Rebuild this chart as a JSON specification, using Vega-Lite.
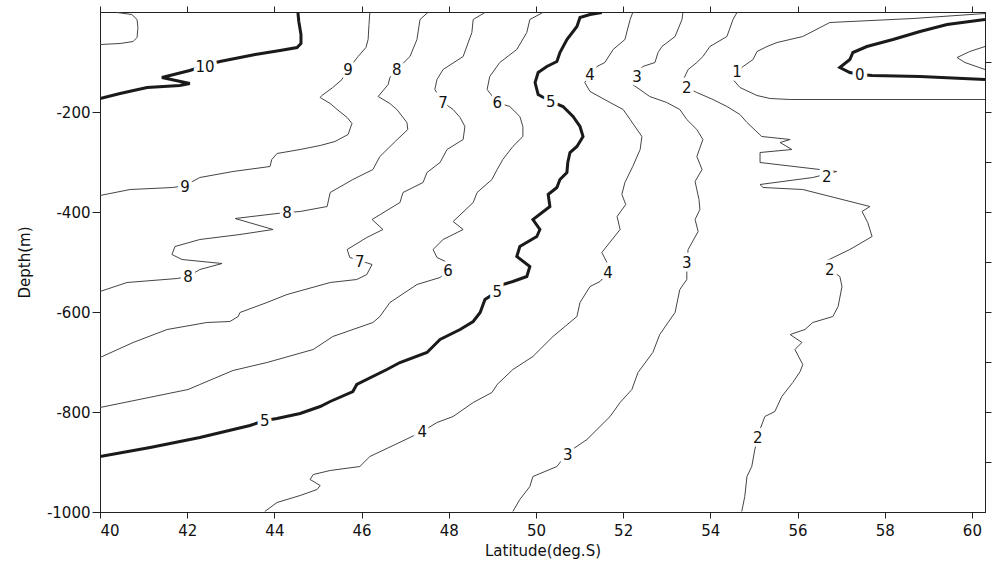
{
"$schema": "https://vega.github.io/schema/vega-lite/v6.json",
"width": 885, "height": 500,
"autosize": {"type": "none"},
"padding": {"left": 100, "top": 12, "right": 7, "bottom": 54},
"background": "white",
"config": {"view": {"stroke": "#222", "strokeWidth": 1}, "font": "DejaVu Sans",
 "axis": {"grid": false, "domainColor": "#222", "tickColor": "#222", "labelColor": "#111", "titleColor": "#111", "labelFontSize": 15, "titleFontSize": 15, "titleFontWeight": "normal", "labelFont": "DejaVu Sans", "titleFont": "DejaVu Sans"}},
"datasets": {
"lines": [
{"s":"c11","v":11,"lat":40.39,"dep":-1},{"s":"c11","v":11,"lat":40.73,"dep":-5},{"s":"c11","v":11,"lat":40.85,"dep":-15},{"s":"c11","v":11,"lat":40.87,"dep":-31},{"s":"c11","v":11,"lat":40.85,"dep":-51},{"s":"c11","v":11,"lat":40.76,"dep":-59},{"s":"c11","v":11,"lat":40.46,"dep":-63},{"s":"c11","v":11,"lat":40.0,"dep":-65},
{"s":"c10","v":10,"lat":44.54,"dep":-1},{"s":"c10","v":10,"lat":44.56,"dep":-19},{"s":"c10","v":10,"lat":44.61,"dep":-45},{"s":"c10","v":10,"lat":44.61,"dep":-63},{"s":"c10","v":10,"lat":44.52,"dep":-71},{"s":"c10","v":10,"lat":44.13,"dep":-77},{"s":"c10","v":10,"lat":43.56,"dep":-85},{"s":"c10","v":10,"lat":42.75,"dep":-99},{"s":"c10","v":10,"lat":42.41,"dep":-107},{"s":"c10","v":10,"lat":42.06,"dep":-117},{"s":"c10","v":10,"lat":41.42,"dep":-131},{"s":"c10","v":10,"lat":42.06,"dep":-143},{"s":"c10","v":10,"lat":41.83,"dep":-147},{"s":"c10","v":10,"lat":41.08,"dep":-151},{"s":"c10","v":10,"lat":40.46,"dep":-163},{"s":"c10","v":10,"lat":40.0,"dep":-173},
{"s":"c9","v":9,"lat":46.19,"dep":-1},{"s":"c9","v":9,"lat":46.17,"dep":-25},{"s":"c9","v":9,"lat":46.15,"dep":-55},{"s":"c9","v":9,"lat":46.10,"dep":-71},{"s":"c9","v":9,"lat":45.92,"dep":-89},{"s":"c9","v":9,"lat":45.69,"dep":-115},{"s":"c9","v":9,"lat":45.55,"dep":-135},{"s":"c9","v":9,"lat":45.34,"dep":-151},{"s":"c9","v":9,"lat":45.09,"dep":-167},{"s":"c9","v":9,"lat":45.05,"dep":-171},{"s":"c9","v":9,"lat":45.28,"dep":-183},{"s":"c9","v":9,"lat":45.44,"dep":-195},{"s":"c9","v":9,"lat":45.67,"dep":-211},{"s":"c9","v":9,"lat":45.78,"dep":-223},{"s":"c9","v":9,"lat":45.69,"dep":-245},{"s":"c9","v":9,"lat":45.39,"dep":-259},{"s":"c9","v":9,"lat":45.05,"dep":-267},{"s":"c9","v":9,"lat":44.59,"dep":-275},{"s":"c9","v":9,"lat":44.06,"dep":-283},{"s":"c9","v":9,"lat":43.94,"dep":-295},{"s":"c9","v":9,"lat":43.90,"dep":-309},{"s":"c9","v":9,"lat":43.05,"dep":-319},{"s":"c9","v":9,"lat":42.29,"dep":-331},{"s":"c9","v":9,"lat":41.95,"dep":-347},{"s":"c9","v":9,"lat":41.67,"dep":-351},{"s":"c9","v":9,"lat":40.69,"dep":-355},{"s":"c9","v":9,"lat":40.0,"dep":-367},
{"s":"c8","v":8,"lat":47.52,"dep":-1},{"s":"c8","v":8,"lat":47.34,"dep":-15},{"s":"c8","v":8,"lat":47.27,"dep":-55},{"s":"c8","v":8,"lat":47.11,"dep":-89},{"s":"c8","v":8,"lat":46.81,"dep":-115},{"s":"c8","v":8,"lat":46.65,"dep":-131},{"s":"c8","v":8,"lat":46.61,"dep":-145},{"s":"c8","v":8,"lat":46.38,"dep":-169},{"s":"c8","v":8,"lat":46.65,"dep":-183},{"s":"c8","v":8,"lat":46.81,"dep":-195},{"s":"c8","v":8,"lat":47.04,"dep":-221},{"s":"c8","v":8,"lat":47.06,"dep":-235},{"s":"c8","v":8,"lat":46.77,"dep":-259},{"s":"c8","v":8,"lat":46.42,"dep":-289},{"s":"c8","v":8,"lat":46.26,"dep":-315},{"s":"c8","v":8,"lat":45.80,"dep":-335},{"s":"c8","v":8,"lat":45.28,"dep":-361},{"s":"c8","v":8,"lat":45.21,"dep":-389},{"s":"c8","v":8,"lat":44.59,"dep":-399},{"s":"c8","v":8,"lat":44.29,"dep":-401},{"s":"c8","v":8,"lat":44.06,"dep":-403},{"s":"c8","v":8,"lat":43.10,"dep":-413},{"s":"c8","v":8,"lat":43.97,"dep":-435},{"s":"c8","v":8,"lat":43.21,"dep":-445},{"s":"c8","v":8,"lat":42.29,"dep":-455},{"s":"c8","v":8,"lat":41.72,"dep":-469},{"s":"c8","v":8,"lat":41.65,"dep":-485},{"s":"c8","v":8,"lat":41.88,"dep":-495},{"s":"c8","v":8,"lat":42.80,"dep":-503},{"s":"c8","v":8,"lat":42.29,"dep":-515},{"s":"c8","v":8,"lat":42.02,"dep":-529},{"s":"c8","v":8,"lat":41.77,"dep":-533},{"s":"c8","v":8,"lat":40.62,"dep":-541},{"s":"c8","v":8,"lat":40.0,"dep":-559},
{"s":"c7","v":7,"lat":48.83,"dep":-1},{"s":"c7","v":7,"lat":48.56,"dep":-15},{"s":"c7","v":7,"lat":48.53,"dep":-41},{"s":"c7","v":7,"lat":48.33,"dep":-89},{"s":"c7","v":7,"lat":47.87,"dep":-115},{"s":"c7","v":7,"lat":47.73,"dep":-135},{"s":"c7","v":7,"lat":47.68,"dep":-155},{"s":"c7","v":7,"lat":47.87,"dep":-181},{"s":"c7","v":7,"lat":48.10,"dep":-195},{"s":"c7","v":7,"lat":48.26,"dep":-211},{"s":"c7","v":7,"lat":48.37,"dep":-229},{"s":"c7","v":7,"lat":48.33,"dep":-255},{"s":"c7","v":7,"lat":47.96,"dep":-275},{"s":"c7","v":7,"lat":47.80,"dep":-301},{"s":"c7","v":7,"lat":47.50,"dep":-321},{"s":"c7","v":7,"lat":47.41,"dep":-341},{"s":"c7","v":7,"lat":46.95,"dep":-361},{"s":"c7","v":7,"lat":46.88,"dep":-381},{"s":"c7","v":7,"lat":46.24,"dep":-415},{"s":"c7","v":7,"lat":46.49,"dep":-435},{"s":"c7","v":7,"lat":46.12,"dep":-451},{"s":"c7","v":7,"lat":45.67,"dep":-475},{"s":"c7","v":7,"lat":45.73,"dep":-491},{"s":"c7","v":7,"lat":45.96,"dep":-497},{"s":"c7","v":7,"lat":46.24,"dep":-505},{"s":"c7","v":7,"lat":46.12,"dep":-525},{"s":"c7","v":7,"lat":45.89,"dep":-535},{"s":"c7","v":7,"lat":45.28,"dep":-541},{"s":"c7","v":7,"lat":44.29,"dep":-565},{"s":"c7","v":7,"lat":43.83,"dep":-581},{"s":"c7","v":7,"lat":43.21,"dep":-601},{"s":"c7","v":7,"lat":43.17,"dep":-609},{"s":"c7","v":7,"lat":42.98,"dep":-619},{"s":"c7","v":7,"lat":42.45,"dep":-621},{"s":"c7","v":7,"lat":41.54,"dep":-635},{"s":"c7","v":7,"lat":40.76,"dep":-661},{"s":"c7","v":7,"lat":40.0,"dep":-691},
{"s":"c6","v":6,"lat":50.16,"dep":-1},{"s":"c6","v":6,"lat":49.86,"dep":-15},{"s":"c6","v":6,"lat":49.79,"dep":-41},{"s":"c6","v":6,"lat":49.56,"dep":-75},{"s":"c6","v":6,"lat":49.17,"dep":-101},{"s":"c6","v":6,"lat":48.94,"dep":-129},{"s":"c6","v":6,"lat":48.88,"dep":-155},{"s":"c6","v":6,"lat":49.11,"dep":-181},{"s":"c6","v":6,"lat":49.40,"dep":-189},{"s":"c6","v":6,"lat":49.63,"dep":-209},{"s":"c6","v":6,"lat":49.70,"dep":-229},{"s":"c6","v":6,"lat":49.70,"dep":-249},{"s":"c6","v":6,"lat":49.47,"dep":-269},{"s":"c6","v":6,"lat":49.24,"dep":-295},{"s":"c6","v":6,"lat":49.11,"dep":-315},{"s":"c6","v":6,"lat":48.99,"dep":-335},{"s":"c6","v":6,"lat":48.65,"dep":-361},{"s":"c6","v":6,"lat":48.56,"dep":-381},{"s":"c6","v":6,"lat":48.10,"dep":-419},{"s":"c6","v":6,"lat":48.33,"dep":-435},{"s":"c6","v":6,"lat":47.87,"dep":-455},{"s":"c6","v":6,"lat":47.64,"dep":-475},{"s":"c6","v":6,"lat":47.73,"dep":-491},{"s":"c6","v":6,"lat":48.07,"dep":-505},{"s":"c6","v":6,"lat":47.98,"dep":-517},{"s":"c6","v":6,"lat":47.80,"dep":-531},{"s":"c6","v":6,"lat":47.27,"dep":-545},{"s":"c6","v":6,"lat":46.65,"dep":-581},{"s":"c6","v":6,"lat":46.42,"dep":-609},{"s":"c6","v":6,"lat":46.26,"dep":-621},{"s":"c6","v":6,"lat":45.34,"dep":-649},{"s":"c6","v":6,"lat":44.89,"dep":-675},{"s":"c6","v":6,"lat":43.83,"dep":-701},{"s":"c6","v":6,"lat":43.05,"dep":-717},{"s":"c6","v":6,"lat":42.29,"dep":-745},{"s":"c6","v":6,"lat":42.02,"dep":-755},{"s":"c6","v":6,"lat":40.0,"dep":-791},
{"s":"c5","v":5,"lat":51.51,"dep":-1},{"s":"c5","v":5,"lat":51.24,"dep":-5},{"s":"c5","v":5,"lat":51.01,"dep":-11},{"s":"c5","v":5,"lat":50.94,"dep":-29},{"s":"c5","v":5,"lat":50.71,"dep":-55},{"s":"c5","v":5,"lat":50.55,"dep":-81},{"s":"c5","v":5,"lat":50.48,"dep":-99},{"s":"c5","v":5,"lat":50.25,"dep":-109},{"s":"c5","v":5,"lat":50.05,"dep":-121},{"s":"c5","v":5,"lat":49.98,"dep":-141},{"s":"c5","v":5,"lat":50.05,"dep":-165},{"s":"c5","v":5,"lat":50.34,"dep":-179},{"s":"c5","v":5,"lat":50.62,"dep":-189},{"s":"c5","v":5,"lat":50.85,"dep":-209},{"s":"c5","v":5,"lat":51.01,"dep":-229},{"s":"c5","v":5,"lat":51.08,"dep":-249},{"s":"c5","v":5,"lat":50.94,"dep":-269},{"s":"c5","v":5,"lat":50.78,"dep":-281},{"s":"c5","v":5,"lat":50.73,"dep":-301},{"s":"c5","v":5,"lat":50.71,"dep":-321},{"s":"c5","v":5,"lat":50.55,"dep":-335},{"s":"c5","v":5,"lat":50.48,"dep":-351},{"s":"c5","v":5,"lat":50.28,"dep":-365},{"s":"c5","v":5,"lat":50.32,"dep":-389},{"s":"c5","v":5,"lat":49.93,"dep":-415},{"s":"c5","v":5,"lat":50.09,"dep":-435},{"s":"c5","v":5,"lat":50.02,"dep":-449},{"s":"c5","v":5,"lat":49.63,"dep":-469},{"s":"c5","v":5,"lat":49.56,"dep":-489},{"s":"c5","v":5,"lat":49.86,"dep":-509},{"s":"c5","v":5,"lat":49.79,"dep":-529},{"s":"c5","v":5,"lat":49.47,"dep":-539},{"s":"c5","v":5,"lat":49.24,"dep":-545},{"s":"c5","v":5,"lat":49.11,"dep":-559},{"s":"c5","v":5,"lat":48.83,"dep":-575},{"s":"c5","v":5,"lat":48.72,"dep":-601},{"s":"c5","v":5,"lat":48.56,"dep":-619},{"s":"c5","v":5,"lat":48.26,"dep":-635},{"s":"c5","v":5,"lat":47.80,"dep":-655},{"s":"c5","v":5,"lat":47.50,"dep":-681},{"s":"c5","v":5,"lat":46.88,"dep":-701},{"s":"c5","v":5,"lat":46.58,"dep":-715},{"s":"c5","v":5,"lat":45.89,"dep":-745},{"s":"c5","v":5,"lat":45.80,"dep":-759},{"s":"c5","v":5,"lat":45.28,"dep":-779},{"s":"c5","v":5,"lat":45.05,"dep":-789},{"s":"c5","v":5,"lat":44.59,"dep":-803},{"s":"c5","v":5,"lat":44.06,"dep":-813},{"s":"c5","v":5,"lat":43.78,"dep":-817},{"s":"c5","v":5,"lat":43.44,"dep":-827},{"s":"c5","v":5,"lat":42.29,"dep":-851},{"s":"c5","v":5,"lat":41.15,"dep":-871},{"s":"c5","v":5,"lat":40.0,"dep":-889},
{"s":"c4","v":4,"lat":52.22,"dep":-1},{"s":"c4","v":4,"lat":52.16,"dep":-15},{"s":"c4","v":4,"lat":52.04,"dep":-55},{"s":"c4","v":4,"lat":51.77,"dep":-75},{"s":"c4","v":4,"lat":51.58,"dep":-101},{"s":"c4","v":4,"lat":51.40,"dep":-109},{"s":"c4","v":4,"lat":51.24,"dep":-125},{"s":"c4","v":4,"lat":51.12,"dep":-141},{"s":"c4","v":4,"lat":51.24,"dep":-159},{"s":"c4","v":4,"lat":51.70,"dep":-181},{"s":"c4","v":4,"lat":52.00,"dep":-195},{"s":"c4","v":4,"lat":52.16,"dep":-215},{"s":"c4","v":4,"lat":52.43,"dep":-249},{"s":"c4","v":4,"lat":52.39,"dep":-275},{"s":"c4","v":4,"lat":52.22,"dep":-309},{"s":"c4","v":4,"lat":52.04,"dep":-341},{"s":"c4","v":4,"lat":51.97,"dep":-365},{"s":"c4","v":4,"lat":52.06,"dep":-385},{"s":"c4","v":4,"lat":51.86,"dep":-409},{"s":"c4","v":4,"lat":51.93,"dep":-435},{"s":"c4","v":4,"lat":51.51,"dep":-481},{"s":"c4","v":4,"lat":51.63,"dep":-501},{"s":"c4","v":4,"lat":51.65,"dep":-521},{"s":"c4","v":4,"lat":51.47,"dep":-539},{"s":"c4","v":4,"lat":51.24,"dep":-549},{"s":"c4","v":4,"lat":51.01,"dep":-581},{"s":"c4","v":4,"lat":50.94,"dep":-609},{"s":"c4","v":4,"lat":50.39,"dep":-649},{"s":"c4","v":4,"lat":49.93,"dep":-689},{"s":"c4","v":4,"lat":49.47,"dep":-715},{"s":"c4","v":4,"lat":49.11,"dep":-745},{"s":"c4","v":4,"lat":48.99,"dep":-761},{"s":"c4","v":4,"lat":48.56,"dep":-781},{"s":"c4","v":4,"lat":48.10,"dep":-809},{"s":"c4","v":4,"lat":47.73,"dep":-821},{"s":"c4","v":4,"lat":47.39,"dep":-839},{"s":"c4","v":4,"lat":47.11,"dep":-851},{"s":"c4","v":4,"lat":46.19,"dep":-889},{"s":"c4","v":4,"lat":45.96,"dep":-909},{"s":"c4","v":4,"lat":45.28,"dep":-917},{"s":"c4","v":4,"lat":44.89,"dep":-925},{"s":"c4","v":4,"lat":44.82,"dep":-935},{"s":"c4","v":4,"lat":45.05,"dep":-947},{"s":"c4","v":4,"lat":44.98,"dep":-955},{"s":"c4","v":4,"lat":44.59,"dep":-967},{"s":"c4","v":4,"lat":44.06,"dep":-981},{"s":"c4","v":4,"lat":43.78,"dep":-999},
{"s":"c3","v":3,"lat":53.37,"dep":-1},{"s":"c3","v":3,"lat":53.35,"dep":-15},{"s":"c3","v":3,"lat":53.19,"dep":-49},{"s":"c3","v":3,"lat":52.89,"dep":-69},{"s":"c3","v":3,"lat":52.80,"dep":-81},{"s":"c3","v":3,"lat":52.73,"dep":-101},{"s":"c3","v":3,"lat":52.45,"dep":-109},{"s":"c3","v":3,"lat":52.39,"dep":-115},{"s":"c3","v":3,"lat":52.32,"dep":-129},{"s":"c3","v":3,"lat":52.22,"dep":-145},{"s":"c3","v":3,"lat":52.61,"dep":-169},{"s":"c3","v":3,"lat":53.00,"dep":-181},{"s":"c3","v":3,"lat":53.30,"dep":-195},{"s":"c3","v":3,"lat":53.46,"dep":-215},{"s":"c3","v":3,"lat":53.69,"dep":-235},{"s":"c3","v":3,"lat":53.83,"dep":-255},{"s":"c3","v":3,"lat":53.69,"dep":-289},{"s":"c3","v":3,"lat":53.81,"dep":-315},{"s":"c3","v":3,"lat":53.65,"dep":-339},{"s":"c3","v":3,"lat":53.74,"dep":-375},{"s":"c3","v":3,"lat":53.76,"dep":-395},{"s":"c3","v":3,"lat":53.65,"dep":-415},{"s":"c3","v":3,"lat":53.72,"dep":-439},{"s":"c3","v":3,"lat":53.49,"dep":-475},{"s":"c3","v":3,"lat":53.46,"dep":-501},{"s":"c3","v":3,"lat":53.46,"dep":-535},{"s":"c3","v":3,"lat":53.30,"dep":-555},{"s":"c3","v":3,"lat":53.19,"dep":-601},{"s":"c3","v":3,"lat":53.03,"dep":-621},{"s":"c3","v":3,"lat":52.84,"dep":-645},{"s":"c3","v":3,"lat":52.68,"dep":-681},{"s":"c3","v":3,"lat":52.34,"dep":-721},{"s":"c3","v":3,"lat":52.20,"dep":-755},{"s":"c3","v":3,"lat":51.93,"dep":-781},{"s":"c3","v":3,"lat":51.70,"dep":-809},{"s":"c3","v":3,"lat":51.17,"dep":-855},{"s":"c3","v":3,"lat":50.73,"dep":-881},{"s":"c3","v":3,"lat":50.48,"dep":-909},{"s":"c3","v":3,"lat":49.93,"dep":-929},{"s":"c3","v":3,"lat":49.86,"dep":-949},{"s":"c3","v":3,"lat":49.63,"dep":-975},{"s":"c3","v":3,"lat":49.47,"dep":-999},
{"s":"c2","v":2,"lat":54.61,"dep":-1},{"s":"c2","v":2,"lat":54.52,"dep":-15},{"s":"c2","v":2,"lat":54.38,"dep":-49},{"s":"c2","v":2,"lat":53.99,"dep":-69},{"s":"c2","v":2,"lat":53.83,"dep":-89},{"s":"c2","v":2,"lat":53.69,"dep":-101},{"s":"c2","v":2,"lat":53.49,"dep":-115},{"s":"c2","v":2,"lat":53.35,"dep":-141},{"s":"c2","v":2,"lat":53.46,"dep":-151},{"s":"c2","v":2,"lat":53.69,"dep":-161},{"s":"c2","v":2,"lat":54.06,"dep":-175},{"s":"c2","v":2,"lat":54.38,"dep":-189},{"s":"c2","v":2,"lat":54.68,"dep":-205},{"s":"c2","v":2,"lat":54.84,"dep":-221},{"s":"c2","v":2,"lat":55.18,"dep":-249},{"s":"c2","v":2,"lat":55.83,"dep":-255},{"s":"c2","v":2,"lat":55.60,"dep":-261},{"s":"c2","v":2,"lat":55.87,"dep":-275},{"s":"c2","v":2,"lat":55.14,"dep":-281},{"s":"c2","v":2,"lat":55.14,"dep":-301},{"s":"c2","v":2,"lat":56.90,"dep":-319},{"s":"c2","v":2,"lat":56.35,"dep":-331},{"s":"c2","v":2,"lat":55.14,"dep":-345},{"s":"c2","v":2,"lat":55.21,"dep":-351},{"s":"c2","v":2,"lat":56.12,"dep":-355},{"s":"c2","v":2,"lat":57.66,"dep":-389},{"s":"c2","v":2,"lat":57.48,"dep":-399},{"s":"c2","v":2,"lat":57.61,"dep":-421},{"s":"c2","v":2,"lat":57.71,"dep":-449},{"s":"c2","v":2,"lat":57.20,"dep":-475},{"s":"c2","v":2,"lat":56.63,"dep":-499},{"s":"c2","v":2,"lat":56.74,"dep":-515},{"s":"c2","v":2,"lat":56.97,"dep":-529},{"s":"c2","v":2,"lat":57.02,"dep":-549},{"s":"c2","v":2,"lat":56.93,"dep":-589},{"s":"c2","v":2,"lat":56.81,"dep":-609},{"s":"c2","v":2,"lat":56.35,"dep":-621},{"s":"c2","v":2,"lat":56.17,"dep":-635},{"s":"c2","v":2,"lat":55.83,"dep":-645},{"s":"c2","v":2,"lat":56.10,"dep":-661},{"s":"c2","v":2,"lat":55.94,"dep":-675},{"s":"c2","v":2,"lat":56.12,"dep":-705},{"s":"c2","v":2,"lat":56.06,"dep":-719},{"s":"c2","v":2,"lat":55.89,"dep":-741},{"s":"c2","v":2,"lat":55.64,"dep":-769},{"s":"c2","v":2,"lat":55.48,"dep":-799},{"s":"c2","v":2,"lat":55.25,"dep":-809},{"s":"c2","v":2,"lat":55.14,"dep":-835},{"s":"c2","v":2,"lat":55.09,"dep":-851},{"s":"c2","v":2,"lat":55.02,"dep":-875},{"s":"c2","v":2,"lat":54.95,"dep":-909},{"s":"c2","v":2,"lat":54.84,"dep":-929},{"s":"c2","v":2,"lat":54.79,"dep":-969},{"s":"c2","v":2,"lat":54.72,"dep":-999},
{"s":"c1","v":1,"lat":60.30,"dep":-3},{"s":"c1","v":1,"lat":58.65,"dep":-13},{"s":"c1","v":1,"lat":56.74,"dep":-21},{"s":"c1","v":1,"lat":56.12,"dep":-49},{"s":"c1","v":1,"lat":55.53,"dep":-61},{"s":"c1","v":1,"lat":55.30,"dep":-69},{"s":"c1","v":1,"lat":55.07,"dep":-79},{"s":"c1","v":1,"lat":54.98,"dep":-95},{"s":"c1","v":1,"lat":54.75,"dep":-109},{"s":"c1","v":1,"lat":54.61,"dep":-121},{"s":"c1","v":1,"lat":54.52,"dep":-135},{"s":"c1","v":1,"lat":54.68,"dep":-151},{"s":"c1","v":1,"lat":55.07,"dep":-167},{"s":"c1","v":1,"lat":55.37,"dep":-173},{"s":"c1","v":1,"lat":55.83,"dep":-175},{"s":"c1","v":1,"lat":60.30,"dep":-175},
{"s":"c0","v":0,"lat":60.30,"dep":-15},{"s":"c0","v":0,"lat":59.43,"dep":-25},{"s":"c0","v":0,"lat":58.81,"dep":-39},{"s":"c0","v":0,"lat":58.19,"dep":-55},{"s":"c0","v":0,"lat":57.59,"dep":-69},{"s":"c0","v":0,"lat":57.27,"dep":-81},{"s":"c0","v":0,"lat":57.20,"dep":-95},{"s":"c0","v":0,"lat":56.97,"dep":-111},{"s":"c0","v":0,"lat":57.20,"dep":-121},{"s":"c0","v":0,"lat":57.43,"dep":-125},{"s":"c0","v":0,"lat":57.71,"dep":-127},{"s":"c0","v":0,"lat":58.81,"dep":-129},{"s":"c0","v":0,"lat":60.30,"dep":-135},
{"s":"cm1","v":-1,"lat":60.30,"dep":-69},{"s":"cm1","v":-1,"lat":59.95,"dep":-79},{"s":"cm1","v":-1,"lat":59.66,"dep":-91},{"s":"cm1","v":-1,"lat":59.84,"dep":-101},{"s":"cm1","v":-1,"lat":60.30,"dep":-115}
],
"labels": [
{"t":"10","lat":42.41,"dep":-109},
{"t":"9","lat":45.69,"dep":-115},{"t":"9","lat":41.95,"dep":-349},
{"t":"8","lat":46.81,"dep":-115},{"t":"8","lat":44.29,"dep":-401},{"t":"8","lat":42.02,"dep":-529},
{"t":"7","lat":47.87,"dep":-181},{"t":"7","lat":45.96,"dep":-499},
{"t":"6","lat":49.11,"dep":-181},{"t":"6","lat":47.98,"dep":-517},
{"t":"5","lat":50.34,"dep":-179},{"t":"5","lat":49.11,"dep":-559},{"t":"5","lat":43.78,"dep":-817},
{"t":"4","lat":51.24,"dep":-125},{"t":"4","lat":51.65,"dep":-521},{"t":"4","lat":47.39,"dep":-839},
{"t":"3","lat":52.32,"dep":-129},{"t":"3","lat":53.46,"dep":-501},{"t":"3","lat":50.73,"dep":-885},
{"t":"2","lat":53.46,"dep":-151},{"t":"2","lat":56.67,"dep":-329},{"t":"2","lat":56.74,"dep":-515},{"t":"2","lat":55.09,"dep":-851},
{"t":"1","lat":54.61,"dep":-119},
{"t":"0","lat":57.43,"dep":-125}
]
},
"layer": [
{"data": {"name": "lines"}, "transform": [{"filter": "datum.v % 5 != 0"}],
 "mark": {"type": "line", "stroke": "#444", "strokeWidth": 1, "clip": true},
 "encoding": {
  "x": {"field": "lat", "type": "quantitative", "scale": {"domain": [40, 60.3], "nice": false, "zero": false},
        "axis": {"orient": "bottom", "values": [40,42,44,46,48,50,52,54,56,58,60], "tickSize": 6, "labelPadding": 5, "title": "Latitude(deg.S)", "titlePadding": 5}},
  "y": {"field": "dep", "type": "quantitative", "scale": {"domain": [-1000, 0], "nice": false, "zero": false},
        "axis": {"orient": "left", "values": [-200,-400,-600,-800,-1000], "labelExpr": "'' + datum.value", "tickSize": 8, "labelPadding": 2, "title": "Depth(m)", "titlePadding": 14}},
  "detail": {"field": "s"},
  "order": {"value": null}
 }},
{"data": {"name": "lines"}, "transform": [{"filter": "datum.v % 5 == 0"}],
 "mark": {"type": "line", "stroke": "#1a1a1a", "strokeWidth": 3, "clip": true},
 "encoding": {
  "x": {"field": "lat", "type": "quantitative", "axis": null},
  "y": {"field": "dep", "type": "quantitative", "axis": null},
  "detail": {"field": "s"},
  "order": {"value": null}
 }},
{"data": {"name": "labels"},
 "mark": {"type": "text", "fontSize": 15, "font": "DejaVu Sans", "stroke": "white", "strokeWidth": 7, "fill": "white", "align": "center", "baseline": "middle"},
 "encoding": {
  "x": {"field": "lat", "type": "quantitative", "axis": {"orient": "top", "values": [40,42,44,46,48,50,52,54,56,58,60], "labels": false, "tickSize": 6, "title": null, "domain": true}},
  "y": {"field": "dep", "type": "quantitative", "axis": {"orient": "right", "values": [-100,-200,-300,-400,-500,-600,-700,-800,-900], "labels": false, "tickSize": 6, "title": null, "domain": true}},
  "text": {"field": "t"}
 }},
{"data": {"name": "labels"},
 "mark": {"type": "text", "fontSize": 15, "font": "DejaVu Sans", "fill": "#111", "align": "center", "baseline": "middle"},
 "encoding": {
  "x": {"field": "lat", "type": "quantitative", "axis": null},
  "y": {"field": "dep", "type": "quantitative", "axis": null},
  "text": {"field": "t"}
 }}
],
"resolve": {"axis": {"x": "independent", "y": "independent"}}
}
